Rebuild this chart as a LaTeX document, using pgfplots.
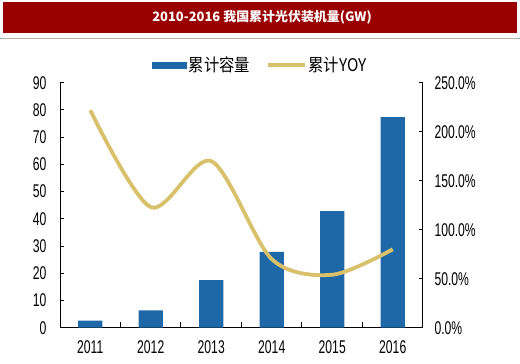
\documentclass[border=0pt]{standalone}
\usepackage{pgfplots}
\pgfplotsset{compat=1.18}
\usepackage{fontspec}
\setmainfont[FakeStretch=0.66]{Liberation Sans}
\newfontfamily\cjk{Noto Sans CJK SC}
\newfontfamily\cjkn[FakeStretch=0.88]{Noto Sans CJK SC}
\definecolor{barblue}{RGB}{31,104,168}
\definecolor{lineyel}{RGB}{216,193,106}
\definecolor{titlered}{RGB}{155,0,0}
\begin{document}
\begin{tikzpicture}
\useasboundingbox (0bp,0bp) rectangle (520bp,364bp);
\fill[titlered] (3bp,331bp) rectangle (517bp,362bp);
\node[text=white,font=\fontsize{13}{15}\selectfont\cjk\bfseries] at (262bp,346.5bp) {2010-2016 我国累计光伏装机量(GW)};
\draw[gray!60,line width=1bp] (0bp,325.5bp) -- (520bp,325.5bp);
\begin{axis}[
  at={(60bp,36.3bp)}, anchor=south west,
  scale only axis, width=363bp, height=245bp,
  xmin=-0.5, xmax=5.5, ymin=0, ymax=90,
  axis y line*=left, axis x line*=bottom,
  axis line style={line width=1bp, black, -},
  xtick={0.5,1.5,2.5,3.5,4.5}, xticklabels={},
  extra x ticks={0,...,5}, extra x tick labels={2011,2012,2013,2014,2015,2016},
  extra x tick style={/pgfplots/major tick length=0pt},
  ytick={0,10,...,90},
  tick align=inside,
  major tick length=3.5bp,
  xtick style={line width=1bp, black, /pgfplots/major tick length=5.5bp},
  ytick style={line width=1bp, black},
  tick label style={font=\fontsize{18.5}{18.5}\selectfont},
  yticklabel style={xshift=-10bp},
  xticklabel style={yshift=-9bp},
  /pgf/number format/assume math mode=true,
  legend columns=2,
  legend style={draw=none, fill=none, at={(0.551,1.072)}, anchor=center,
    font=\fontsize{17.5}{17.5}\selectfont\cjkn,
    /tikz/every even column/.style={column sep=14bp}},
]
\addplot[ybar, bar width=24.3bp, fill=barblue, draw=none,
  legend image code/.code={\fill[barblue] (0bp,-3.5bp) rectangle (35bp,3.5bp);}]
  coordinates {(0,2.6)(1,6.4)(2,17.5)(3,27.9)(4,42.8)(5,77.4)};
\addlegendentry{累计容量}
\addlegendimage{legend image code/.code={\draw[lineyel,line width=3.5bp] (0bp,0bp) -- (37bp,0bp);}}
\addlegendentry{累计YOY}
\end{axis}
\begin{axis}[
  at={(60bp,36.3bp)}, anchor=south west,
  scale only axis, width=363bp, height=245bp,
  xmin=-0.5, xmax=5.5, ymin=0, ymax=250,
  axis y line*=right, axis x line=none,
  axis line style={line width=1bp, black, -},
  ytick={0,50,...,250},
  yticklabel={\pgfmathprintnumber[fixed,fixed zerofill,precision=1]{\tick}\%},
  tick align=inside,
  major tick length=3.5bp,
  ytick style={line width=1bp, black},
  tick label style={font=\fontsize{18.5}{18.5}\selectfont},
  yticklabel style={xshift=8bp},
  /pgf/number format/assume math mode=true,
]
\addplot[lineyel, line width=3.8bp, smooth] coordinates {(0,222)(1,123)(2,170)(3,70)(4,54)(5,80)};
\end{axis}
\end{tikzpicture}
\end{document}
